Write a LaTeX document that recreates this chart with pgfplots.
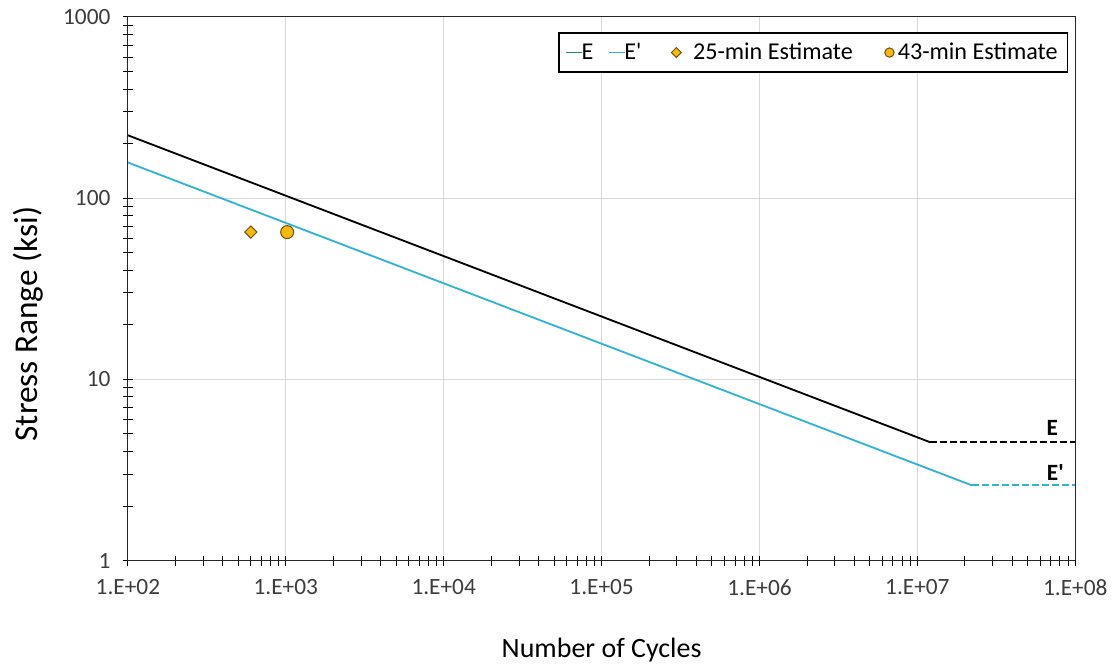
\documentclass[border=0pt]{standalone}
\usepackage{fontspec}
\setmainfont{Carlito}
\usepackage{pgfplots}
\pgfplotsset{compat=1.18}
\definecolor{eblue}{RGB}{49,180,212}
\definecolor{egreen}{RGB}{30,140,85}
\definecolor{gold}{RGB}{246,185,20}
\definecolor{goldedge}{RGB}{110,85,10}
\definecolor{gridc}{RGB}{217,217,217}
\definecolor{tickc}{RGB}{60,60,60}
\begin{document}
\begin{tikzpicture}
\begin{axis}[
  name=ax,
  scale only axis,
  width=568.8pt, height=326.4pt,
  xmode=log, ymode=log,
  xmin=1e2, xmax=1e8, ymin=1, ymax=1000,
  xtick={1e2,1e3,1e4,1e5,1e6,1e7,1e8},
  xticklabels={1.E+02,1.E+03,1.E+04,1.E+05,1.E+06,1.E+07,1.E+08},
  ytick={1,10,100,1000},
  yticklabels={1,10,100,1000},
  /pgf/number format/assume math mode=true,
  tick label style={font=\fontsize{14}{16}\selectfont, text=tickc},
  xticklabel style={yshift=-5pt},
  yticklabel style={xshift=-4pt},
  xtick pos=left, ytick pos=left,
  tick align=center,
  major tick length=6pt, minor tick length=6pt,
  every tick/.style={black, line width=0.6pt},
  axis line style={black!85, line width=0.6pt},
  xmajorgrids, ymajorgrids,
  major grid style={gridc, line width=0.6pt},
  minor grid style={draw=none},
  xlabel={Number of Cycles},
  ylabel={Stress Range (ksi)},
  xlabel style={font=\fontsize{16.8}{19}\selectfont, at={(axis description cs:0.5,-0.164)}, anchor=center},
  ylabel style={font=\fontsize{20}{23}\selectfont, at={(axis description cs:-0.1055,0.435)}, anchor=center, rotate=0},
  legend style={at={(axis description cs:0.9926,0.972)}, anchor=north east,
    legend columns=4, draw=black, line width=0.9pt, font=\fontsize{14.5}{17}\selectfont,
    /tikz/every even column/.append style={column sep=7pt},
    inner xsep=4pt, inner ysep=4pt},
  legend cell align=left,
  legend image code/.code={\draw[#1, line width=1pt] (0pt,0pt) -- (9.6pt,0pt);},
]
% lines
\addplot[draw=black, line width=1.1pt, forget plot] coordinates {(100,222.4) (1.207e7,4.5)};
\addplot[draw=black, line width=1.1pt, dash pattern=on 4pt off 2pt, forget plot] coordinates {(1.207e7,4.5) (1e8,4.5)};
\addplot[draw=eblue, line width=1.1pt, forget plot] coordinates {(100,157.4) (2.219e7,2.6)};
\addplot[draw=eblue, line width=1.2pt, dash pattern=on 4pt off 2pt, forget plot] coordinates {(2.219e7,2.6) (1e8,2.6)};
% legend entries
\addlegendimage{draw=egreen, line width=1pt}
\addlegendentry{\hspace{-3pt}E}
\addlegendimage{draw=eblue, line width=1pt}
\addlegendentry{\hspace{-3pt}E\textquotesingle}
\addplot[only marks, mark=square*, mark size=2.6pt, mark options={rotate=45, fill=gold, draw=goldedge, line width=0.6pt},
  legend image code/.code={\path[draw=none] (-7pt,0pt) -- (13pt,0pt); \path[draw=none] plot[mark=square*, mark size=2.1pt, mark options={rotate=45, fill=gold, draw=goldedge, line width=0.6pt}] coordinates {(5pt,0pt)};}]
  coordinates {(600,65)};
\addlegendentry{25-min Estimate}
\addplot[only marks, mark=*, mark size=3.9pt, mark options={fill=gold, draw=goldedge, line width=0.6pt},
  legend image code/.code={\path[draw=none] (-8pt,0pt) -- (8pt,0pt); \path[draw=none] plot[mark=*, mark size=2.8pt, mark options={fill=gold, draw=goldedge, line width=0.6pt}] coordinates {(5pt,0pt)};}]
  coordinates {(1020,65)};
\addlegendentry{43-min Estimate}
\node[font=\fontsize{14}{16}\selectfont\bfseries] at (axis cs:7.15e7,5.42) {E};
\node[font=\fontsize{14}{16}\selectfont\bfseries] at (axis cs:7.47e7,3.06) {E\textquotesingle};
\end{axis}
\path[use as bounding box] ([shift={(-76.8pt,-64.2pt)}]ax.south west) rectangle ([shift={(22.2pt,10.2pt)}]ax.north east);
\end{tikzpicture}
\end{document}
